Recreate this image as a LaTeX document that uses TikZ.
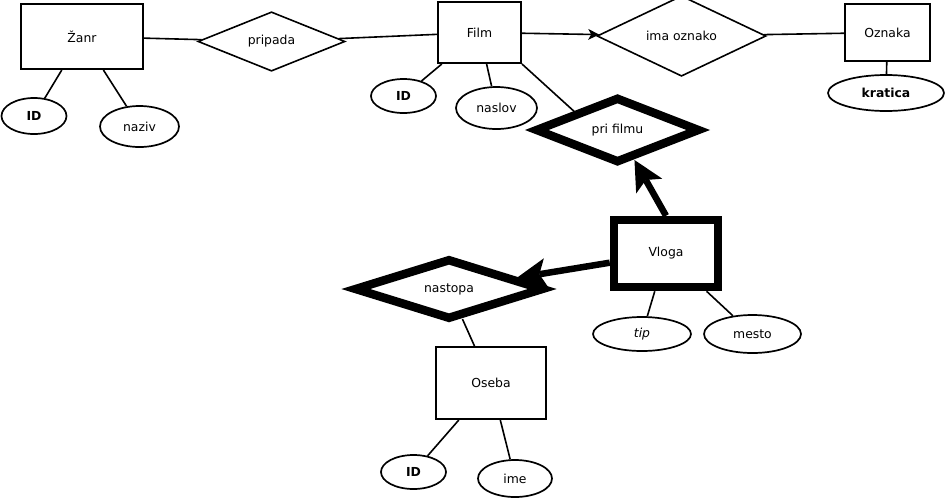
\documentclass[tikz,border=0pt]{standalone}
\usepackage{fontspec}
\setmainfont{DejaVu Sans}
\usetikzlibrary{shapes.geometric,arrows.meta}
\begin{document}
\begin{tikzpicture}[x=1pt,y=-1pt,
  every node/.style={font=\fontsize{12.4}{14}\selectfont, inner sep=0pt},
  entity/.style={draw, rectangle, line width=2pt},
  weakent/.style={draw, rectangle, line width=8.5pt},
  rel/.style={draw, diamond, line width=1.6pt},
  weakrel/.style={draw, diamond, line width=8.5pt, line join=miter},
  attr/.style={draw, ellipse, line width=1.7pt},
  conn/.style={line width=1.6pt},
  thinarrow/.style={line width=1.6pt, -{Stealth[length=11pt,width=11pt,inset=3pt,line width=0pt]}},
  thickarrow/.style={line width=6.5pt, -{Stealth[length=30pt,width=30pt,inset=7pt,line width=0pt]}}
]
\useasboundingbox (0,0) rectangle (947,499);

% entities
\node[entity, minimum width=122pt, minimum height=65pt] (zanr) at (82,36.5) {Žanr};
\node[entity, minimum width=83pt, minimum height=61pt] (film) at (479.5,32.5) {Film};
\node[entity, minimum width=85pt, minimum height=57pt] (oznaka) at (887.5,32.5) {Oznaka};
\node[weakent, minimum width=104pt, minimum height=67pt] (vloga) at (666,253.5) {Vloga};
\node[entity, minimum width=110pt, minimum height=72pt] (oseba) at (491,383) {Oseba};

% relationships
\node[rel, minimum width=147pt, minimum height=57pt] (pripada) at (271.5,41.5) {pripada};
\node[rel, minimum width=169pt, minimum height=66pt] (imaoznako) at (681.5,36) {ima oznako};
\node[weakrel, minimum width=165pt, minimum height=66pt] (prifilmu) at (617.5,130) {pri filmu};
\node[weakrel, minimum width=190pt, minimum height=61pt] (nastopa) at (449,289) {nastopa};

% attributes
\node[attr, minimum width=116pt, minimum height=36pt] (kratica) at (886,93) {\bfseries kratica};
\node[attr, minimum width=65pt, minimum height=36pt] (zid) at (34,116) {\bfseries ID};
\node[attr, minimum width=79pt, minimum height=41pt] (naziv) at (139.5,126.5) {naziv};
\node[attr, minimum width=65pt, minimum height=34pt] (fid) at (403.5,96) {\bfseries ID};
\node[attr, minimum width=81pt, minimum height=42pt] (naslov) at (496.5,108) {naslov};
\node[attr, minimum width=98pt, minimum height=34pt] (tip) at (642,334) {\itshape tip};
\node[attr, minimum width=97pt, minimum height=38pt] (mesto) at (752.5,334) {mesto};
\node[attr, minimum width=65pt, minimum height=34pt] (oid) at (413.5,472) {\bfseries ID};
\node[attr, minimum width=74pt, minimum height=37pt] (ime) at (515,478.5) {ime};

% connectors
\draw[conn] (zanr) -- (pripada);
\draw[conn] (pripada) -- (film);
\draw[thinarrow] (film) -- (imaoznako);
\draw[conn] (imaoznako) -- (oznaka);
\draw[conn] (oznaka) -- (kratica);
\draw[conn] (zanr) -- (zid);
\draw[conn] (zanr) -- (naziv);
\draw[conn] (film) -- (fid);
\draw[conn] (film) -- (naslov);
\draw[conn] (film.south east) -- (prifilmu.north west);
\draw[thickarrow] (vloga.north) -- (prifilmu);
\draw[thickarrow] (vloga) -- (nastopa);
\draw[conn] (vloga) -- (tip);
\draw[conn] (vloga) -- (mesto);
\draw[conn] (nastopa) -- (oseba);
\draw[conn] (oseba) -- (oid);
\draw[conn] (oseba) -- (ime);
\end{tikzpicture}
\end{document}
